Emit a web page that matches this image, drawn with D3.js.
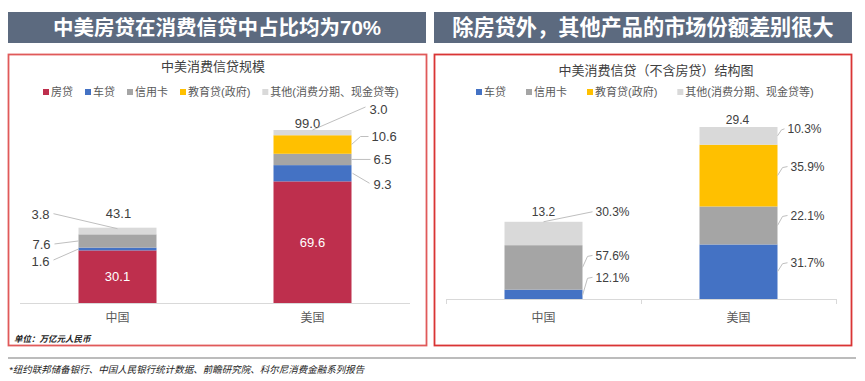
<!DOCTYPE html>
<html>
<head>
<meta charset="utf-8">
<script src="https://cdn.jsdelivr.net/npm/d3@7"></script>
<style>
  html, body { margin: 0; padding: 0; background: #fff; }
  svg text { font-family: "Liberation Sans", "Noto Sans CJK SC", sans-serif; }
</style>
</head>
<body>
<div id="chart"></div>
<script>
// ---- data ----
const categories = ["中国", "美国"];
const seriesNames = ["房贷", "车贷", "信用卡", "教育贷(政府)", "其他(消费分期、现金贷等)"];
const seriesColors = ["#be2f4d", "#4472c4", "#a5a5a5", "#ffc000", "#d9d9d9"];

// 万亿元人民币
const mortgage = [30.1, 69.6];
const autoLoan = [1.6, 9.3];
const creditCard = [7.6, 6.5];
const eduLoan = [0, 10.6];
const otherLoan = [3.8, 3.0];
const totals = [43.1, 99.0];

// structure excluding mortgage (%)
const exTotals = [13.2, 29.4];
const autoPct = [12.1, 31.7];
const cardPct = [57.6, 22.1];
const eduPct = [0, 35.9];
const otherPct = [30.3, 10.3];

const leftTitle = "中美房贷在消费信贷中占比均为70%";
const rightTitle = "除房贷外，其他产品的市场份额差别很大";
const footnote = "*纽约联邦储备银行、中国人民银行统计数据、前瞻研究院、科尔尼消费金融系列报告";

const W = 865, H = 381;
const svg = d3.select("#chart").append("svg")
    .attr("width", W).attr("height", H);

// title bands
function band(x0, x1, text, size) {
    svg.append("rect")
        .attr("x", x0).attr("y", 12)
        .attr("width", x1 - x0).attr("height", 31)
        .attr("fill", "#5c6a7f");
    svg.append("text")
        .attr("x", (x0 + x1) / 2).attr("y", 28)
        .attr("dy", "0.35em")
        .attr("text-anchor", "middle")
        .attr("fill", "#fff")
        .style("font-size", size + "px")
        .style("font-weight", "bold")
        .text(text);
}
band(8, 426, leftTitle, 20.5);
band(434, 852, rightTitle, 21.2);

// red frames
svg.append("rect").attr("x", 8.5).attr("y", 54.5).attr("width", 418).attr("height", 291)
    .attr("fill", "none").attr("stroke", "#e05a5a").attr("stroke-width", 1.8);
svg.append("rect").attr("x", 434.5).attr("y", 54.5).attr("width", 417).attr("height", 291)
    .attr("fill", "none").attr("stroke", "#d93434").attr("stroke-width", 1.8);

// footer
svg.append("line").attr("x1", 8).attr("x2", 856).attr("y1", 358).attr("y2", 358)
    .attr("stroke", "#a6a6a6").attr("stroke-width", 1.5);
svg.append("text").attr("x", 9).attr("y", 370).attr("dy", "0.35em")
    .style("font-size", "9.5px").style("font-style", "italic")
    .attr("fill", "#222").text(footnote);

function legend(g, names, colors, x0, y, gap) {
    let x = x0;
    names.forEach((n, i) => {
        g.append("rect").attr("x", x).attr("y", y - 3).attr("width", 6).attr("height", 6)
            .attr("fill", colors[i]);
        const t = g.append("text").attr("x", x + 8).attr("y", y).attr("dy", "0.35em")
            .attr("fill", "#595959").style("font-size", "11px").text(n);
        x += 8 + t.node().getComputedTextLength() + gap;
    });
}

function callout(g, pts, tx, ty, text, size, anchor) {
    g.append("polyline")
        .attr("points", pts.map(p => p.join(",")).join(" "))
        .attr("fill", "none").attr("stroke", "#bfbfbf").attr("stroke-width", 1);
    g.append("text").attr("x", tx).attr("y", ty).attr("dy", "0.35em")
        .attr("text-anchor", anchor || "start")
        .attr("fill", "#404040").style("font-size", size + "px").text(text);
}

// ---- left: 中美消费信贷规模 ----
(function () {
    const g = svg.append("g");
    const keys = seriesNames;
    const rows = categories.map((c, i) => ({
        cat: c,
        [keys[0]]: mortgage[i], [keys[1]]: autoLoan[i], [keys[2]]: creditCard[i],
        [keys[3]]: eduLoan[i], [keys[4]]: otherLoan[i]
    }));
    const stack = d3.stack().keys(keys)(rows);
    const x = d3.scaleBand().domain(categories).range([20, 410]).paddingInner(0.6).paddingOuter(0.3);
    const y = d3.scaleLinear().domain([0, 99]).range([303, 130]);

    g.append("text").attr("x", 213).attr("y", 66).attr("dy", "0.35em").attr("text-anchor", "middle")
        .attr("fill", "#404040").style("font-size", "13px").text("中美消费信贷规模");
    legend(g, seriesNames, seriesColors, 43, 92, 12);

    stack.forEach((s, k) => {
        g.selectAll(null).data(s).join("rect")
            .attr("x", d => x(d.data.cat)).attr("width", x.bandwidth())
            .attr("y", d => y(d[1])).attr("height", d => y(d[0]) - y(d[1]))
            .attr("fill", seriesColors[k]);
    });

    const axis = g.append("g").attr("transform", "translate(0,303)")
        .call(d3.axisBottom(x).tickSize(0).tickPadding(10));
    axis.select(".domain").attr("stroke", "#d9d9d9").attr("d", "M20,0.5H410");
    axis.selectAll("text").attr("fill", "#595959").style("font-size", "12px");

    const mid = (k, i) => y((stack[k][i][0] + stack[k][i][1]) / 2);
    const fs = 13;
    // inside labels
    categories.forEach((c, i) => {
        g.append("text").attr("x", x(c) + x.bandwidth() / 2).attr("y", mid(0, i)).attr("dy", "0.35em")
            .attr("text-anchor", "middle").attr("fill", "#fff").style("font-size", fs + "px")
            .text(mortgage[i].toFixed(1));
    });
    // 中国
    let L = x("中国"), C = L + x.bandwidth() / 2, m;
    m = mid(1, 0); callout(g, [[L, m], [L - 25, m + 11]], L - 29, m + 12, autoLoan[0].toFixed(1), fs, "end");
    m = mid(2, 0); callout(g, [[L, m], [L - 24, m + 3]], L - 28, m + 3, creditCard[0].toFixed(1), fs, "end");
    let top = y(totals[0]);
    callout(g, [[C, top + 1], [L - 25, top - 14]], L - 29, top - 13, otherLoan[0].toFixed(1), fs, "end");
    g.append("text").attr("x", C + 1).attr("y", top - 14).attr("dy", "0.35em").attr("text-anchor", "middle")
        .attr("fill", "#404040").style("font-size", fs + "px").text(totals[0].toFixed(1));
    // 美国
    L = x("美国"); C = L + x.bandwidth() / 2;
    const R = L + x.bandwidth();
    m = mid(1, 1); callout(g, [[R + 1, m], [R + 18, m + 10]], R + 22, m + 11, autoLoan[1].toFixed(1), fs);
    m = mid(2, 1); callout(g, [[R, m], [R + 19, m]], R + 22, m, creditCard[1].toFixed(1), fs);
    m = mid(3, 1); callout(g, [[R, m], [R + 9, m - 8], [R + 17, m - 8]], R + 20, m - 8, eduLoan[1].toFixed(1), fs);
    top = y(totals[1]);
    callout(g, [[C, top], [R + 14, top - 23]], R + 18, top - 21, otherLoan[1].toFixed(1), fs);
    g.append("text").attr("x", C - 5).attr("y", top - 7).attr("dy", "0.35em").attr("text-anchor", "middle")
        .attr("fill", "#404040").style("font-size", fs + "px").text(totals[1].toFixed(1));

    g.append("text").attr("x", 14).attr("y", 339).attr("dy", "0.35em")
        .style("font-size", "8.5px").style("font-weight", "bold").style("font-style", "italic")
        .attr("fill", "#222").text("单位：万亿元人民币");
})();

// ---- right: 中美消费信贷（不含房贷）结构图 ----
(function () {
    const g = svg.append("g");
    const keys = seriesNames.slice(1);
    const cols = seriesColors.slice(1);
    const pcts = [autoPct, cardPct, eduPct, otherPct];
    const rows = categories.map((c, i) => {
        const r = {cat: c};
        keys.forEach((k, j) => { r[k] = pcts[j][i] / 100 * exTotals[i]; });
        return r;
    });
    const stack = d3.stack().keys(keys)(rows);
    const x = d3.scaleBand().domain(categories).range([446, 836]).paddingInner(0.6).paddingOuter(0.3);
    const y = d3.scaleLinear().domain([0, 29.4]).range([299, 127]);

    g.append("text").attr("x", 656).attr("y", 70).attr("dy", "0.35em").attr("text-anchor", "middle")
        .attr("fill", "#404040").style("font-size", "13px").text("中美消费信贷（不含房贷）结构图");
    legend(g, keys, cols, 476, 92, 20);

    stack.forEach((s, k) => {
        g.selectAll(null).data(s).join("rect")
            .attr("x", d => x(d.data.cat)).attr("width", x.bandwidth())
            .attr("y", d => y(d[1])).attr("height", d => y(d[0]) - y(d[1]))
            .attr("fill", cols[k]);
    });

    const axis = g.append("g").attr("transform", "translate(0,299)")
        .call(d3.axisBottom(x).tickSize(0).tickPadding(14));
    axis.select(".domain").attr("stroke", "#d9d9d9").attr("d", "M446,0.5H836");
    [446, 641, 836].forEach(t => axis.append("line").attr("x1", t + 0.5).attr("x2", t + 0.5)
        .attr("y1", 0).attr("y2", 5).attr("stroke", "#d9d9d9"));
    axis.selectAll("text").attr("fill", "#595959").style("font-size", "12px");

    const mid = (k, i) => y((stack[k][i][0] + stack[k][i][1]) / 2);
    const fs = 12;
    const pct = v => v.toFixed(1) + "%";
    // 中国
    let L = x("中国"), C = L + x.bandwidth() / 2, R = L + x.bandwidth(), m, top;
    m = mid(0, 0); callout(g, [[R, m + 1], [R + 5, m - 16], [R + 10, m - 17]], R + 13, m - 17, pct(autoPct[0]), fs);
    m = mid(1, 0); callout(g, [[R, m], [R + 5, m - 11], [R + 10, m - 12]], R + 13, m - 12, pct(cardPct[0]), fs);
    top = y(exTotals[0]);
    callout(g, [[C, top], [R + 10, top - 10]], R + 13, top - 10, pct(otherPct[0]), fs);
    g.append("text").attr("x", C).attr("y", top - 10).attr("dy", "0.35em").attr("text-anchor", "middle")
        .attr("fill", "#404040").style("font-size", fs + "px").text(exTotals[0].toFixed(1));
    // 美国
    L = x("美国"); C = L + x.bandwidth() / 2; R = L + x.bandwidth();
    m = mid(0, 1); callout(g, [[R, m], [R + 5, m - 8], [R + 10, m - 9]], R + 13, m - 9, pct(autoPct[1]), fs);
    m = mid(1, 1); callout(g, [[R, m], [R + 5, m - 9], [R + 10, m - 10]], R + 13, m - 10, pct(cardPct[1]), fs);
    m = mid(2, 1); callout(g, [[R, m], [R + 5, m - 8], [R + 10, m - 9]], R + 13, m - 9, pct(eduPct[1]), fs);
    m = mid(3, 1); callout(g, [[R, m], [R + 4, m - 6], [R + 7, m - 7]], R + 10, m - 7, pct(otherPct[1]), fs);
    top = y(exTotals[1]);
    g.append("text").attr("x", C - 1).attr("y", top - 7).attr("dy", "0.35em").attr("text-anchor", "middle")
        .attr("fill", "#404040").style("font-size", fs + "px").text(exTotals[1].toFixed(1));
})();
</script>
</body>
</html>
